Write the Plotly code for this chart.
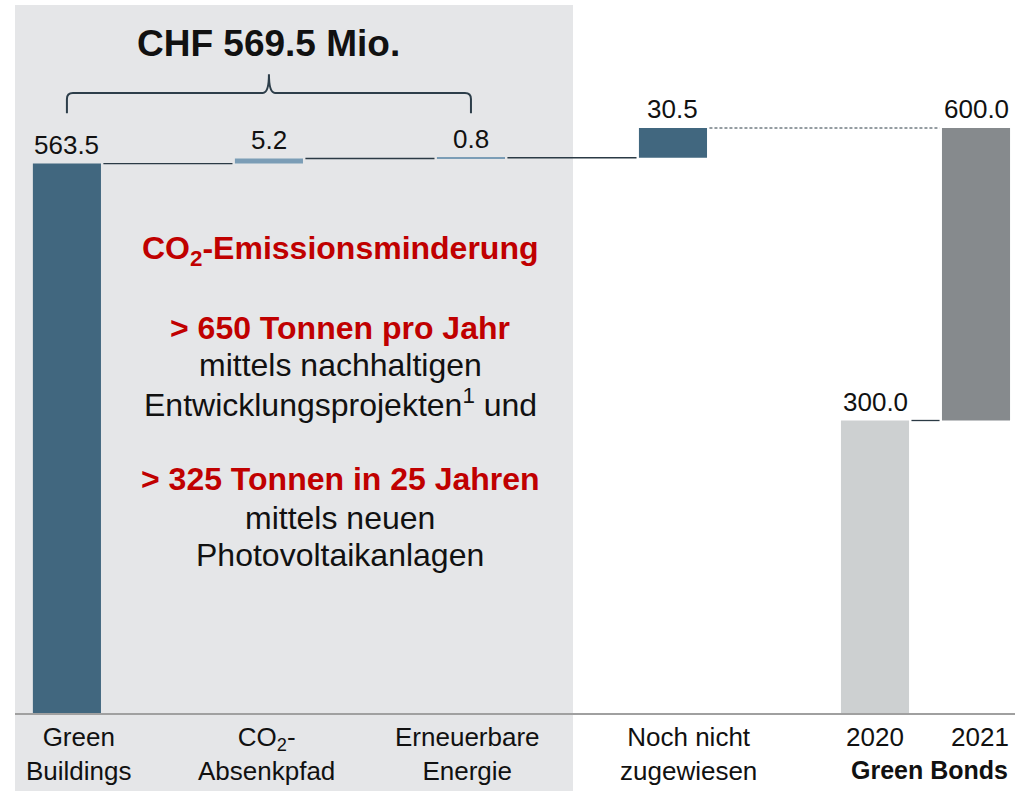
import plotly.graph_objects as go

# ---- data ----
categories = ["Green<br>Buildings", "CO<sub>2</sub>-<br>Absenkpfad", "Erneuerbare<br>Energie",
              "Noch nicht<br>zugewiesen", "2020", "2021"]
positions = [0, 1, 2, 3, 4, 4.5]
values = [563.5, 5.2, 0.8, 30.5, 300.0, 300.0]
bases = [0.0, 563.5, 568.7, 569.5, 0.0, 300.0]
value_labels = ["563.5", "5.2", "0.8", "30.5", "300.0", "600.0"]
colors = ["#41677f", "#7b9db6", "#7b9db6", "#41677f", "#cdd0d1", "#868a8d"]
total_label = "CHF 569.5 Mio."
group_label = "Green Bonds"

red = "#c00000"
body_lines = [
    ("CO<sub>2</sub>-Emissionsminderung", True, 250),
    ("&gt; 650 Tonnen pro Jahr", True, 328),
    ("mittels nachhaltigen", False, 365),
    ("Entwicklungsprojekten<sup>1</sup> und", False, 403),
    ("&gt; 325 Tonnen in 25 Jahren", True, 479),
    ("mittels neuen", False, 518),
    ("Photovoltaikanlagen", False, 555),
]

FONT = "Liberation Sans, Arial, sans-serif"
BAR_W = 0.337
XR = [-0.257, 4.693]
YR = [0, 726.15]
PLOT_TOP, PLOT_BOTTOM = 5, 713
PX_PER_X = 202
# horizontal nudges of the category captions relative to bar centres (px)
label_nudge = [12, -2, -3, 16, 0, 4]


def paper_y(py):
    return (PLOT_BOTTOM - py) / (PLOT_BOTTOM - PLOT_TOP)


fig = go.Figure()
fig.add_trace(go.Bar(
    x=positions, y=values, base=bases, width=BAR_W,
    marker=dict(color=colors, line=dict(width=0)),
    hoverinfo="skip", showlegend=False,
))

shapes = []
shapes.append(dict(type="rect", xref="paper", yref="paper", x0=0, x1=0.558, y0=paper_y(791), y1=1,
                   fillcolor="#e5e6e8", line=dict(width=0), layer="below"))

gap = 0.012
line_col = "#2b3a45"
for i in range(3):
    lvl = bases[i] + values[i]
    shapes.append(dict(type="line", xref="x", yref="y",
                       x0=positions[i] + BAR_W / 2 + gap, x1=positions[i + 1] - BAR_W / 2 - gap,
                       y0=lvl, y1=lvl, line=dict(color=line_col, width=1.3)))
top = bases[3] + values[3]
shapes.append(dict(type="line", xref="x", yref="y",
                   x0=positions[3] + BAR_W / 2 + gap, x1=positions[5] - BAR_W / 2 - gap,
                   y0=top, y1=top, line=dict(color="#2b3a45", width=1, dash="3px,2px")))
lvl = bases[4] + values[4]
shapes.append(dict(type="line", xref="x", yref="y",
                   x0=positions[4] + BAR_W / 2 + gap, x1=positions[5] - BAR_W / 2 - gap,
                   y0=lvl, y1=lvl, line=dict(color=line_col, width=1.3)))

# curly brace
bx0, bx1 = positions[0], positions[2]
bxc = (bx0 + bx1) / 2
by_leg, by_top, by_peak = 615, 636, 655
rx, ry = 6 / PX_PER_X, 6 / 0.975
path = (f"M {bx0},{by_leg} L {bx0},{by_top - ry} Q {bx0},{by_top} {bx0 + rx},{by_top} "
        f"L {bxc - rx},{by_top} Q {bxc},{by_top} {bxc},{by_peak} "
        f"Q {bxc},{by_top} {bxc + rx},{by_top} L {bx1 - rx},{by_top} "
        f"Q {bx1},{by_top} {bx1},{by_top - ry} L {bx1},{by_leg}")
shapes.append(dict(type="path", xref="x", yref="y", path=path,
                   line=dict(color="#2d3e4a", width=2)))

annotations = []
for p, b, v, t in zip(positions, bases, values, value_labels):
    annotations.append(dict(x=p, y=b + v, xref="x", yref="y", text=t, showarrow=False,
                            yanchor="bottom", yshift=2,
                            font=dict(family=FONT, size=26, color="#111111")))
for p, c, n in zip(positions, categories, label_nudge):
    annotations.append(dict(x=p, y=0, xref="x", yref="paper", text=c, showarrow=False,
                            yanchor="top", yshift=-7, xshift=n,
                            font=dict(family=FONT, size=26, color="#111111")))
annotations.append(dict(x=(positions[4] + positions[5]) / 2 + 0.02, y=paper_y(770), xref="x", yref="paper",
                        text=f"<b>{group_label}</b>", showarrow=False, yanchor="middle",
                        font=dict(family=FONT, size=25, color="#111111")))
annotations.append(dict(x=bxc, y=paper_y(43), xref="x", yref="paper", text=f"<b>{total_label}</b>",
                        showarrow=False, yanchor="middle",
                        font=dict(family=FONT, size=37, color="#111111")))
for txt, is_red, py in body_lines:
    t = f"<b>{txt}</b>" if is_red else txt
    annotations.append(dict(x=0.325, y=paper_y(py), xref="paper", yref="paper", text=t,
                            showarrow=False, xanchor="center", yanchor="middle",
                            font=dict(family=FONT, size=32, color=red if is_red else "#111111")))

fig.update_layout(
    width=1015, height=791,
    margin=dict(l=15, r=0, t=PLOT_TOP, b=791 - PLOT_BOTTOM),
    paper_bgcolor="white", plot_bgcolor="rgba(0,0,0,0)",
    shapes=shapes, annotations=annotations,
    xaxis=dict(range=XR, showgrid=False, zeroline=False, showticklabels=False, ticks="",
               showline=True, linecolor="#a0a0a0", linewidth=2, fixedrange=True),
    yaxis=dict(range=YR, showgrid=False, zeroline=False, showticklabels=False, ticks="",
               showline=False, fixedrange=True),
    font=dict(family=FONT),
)

fig.write_html("out.html", config={"displayModeBar": False},
               post_script="document.body.style.margin='0px';")
